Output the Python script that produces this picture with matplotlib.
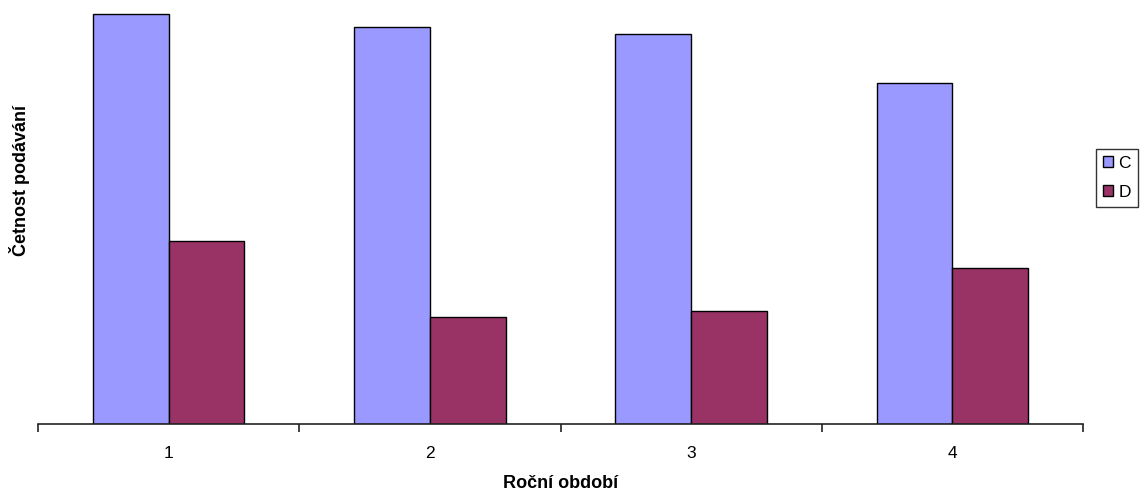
import numpy as np
import matplotlib.pyplot as plt
from matplotlib.patches import Patch

plt.rcParams['font.family'] = ['Liberation Sans', 'DejaVu Sans']

# Data
obdobi = ['1', '2', '3', '4']
hodnoty_C = [41.0, 39.7, 39.0, 34.1]
hodnoty_D = [18.3, 10.7, 11.3, 15.6]
barva_C = '#9999FF'
barva_D = '#993366'

W, H = 1140, 493
fig = plt.figure(figsize=(W / 100, H / 100), dpi=100)
ax = fig.add_axes([38 / W, (H - 424) / H, (1083 - 38) / W, (424 - 10) / H])

x = np.arange(1, len(obdobi) + 1)
sirka = 0.29
ax.bar(x - sirka / 2, hodnoty_C, sirka, color=barva_C, edgecolor='black', linewidth=1.0, label='C')
ax.bar(x + sirka / 2, hodnoty_D, sirka, color=barva_D, edgecolor='black', linewidth=1.0, label='D')

ax.set_xlim(0.5, len(obdobi) + 0.5)
ax.set_ylim(0, 41.4)

for s in ['top', 'right', 'left']:
    ax.spines[s].set_visible(False)
ax.spines['bottom'].set_color('#222222')
ax.spines['bottom'].set_linewidth(1.2)

ax.set_yticks([])
ax.set_xticks(x)
ax.set_xticklabels(obdobi, fontsize=12.5)
ax.tick_params(axis='x', which='major', length=0, pad=16)
ax.set_xticks(np.arange(0.5, len(obdobi) + 1), minor=True)
ax.tick_params(axis='x', which='minor', length=6, width=1.2, color='#222222')

fig.text((38 + 1083) / 2 / W, 1 - 484 / H, 'Roční období', ha='center', va='center',
         fontsize=13, fontweight='bold')
fig.text(20 / W, 1 - 180 / H, 'Četnost podávání', ha='center', va='center',
         rotation=90, fontsize=13, fontweight='bold')

handles = [Patch(facecolor=barva_C, edgecolor='black', label='C'),
           Patch(facecolor=barva_D, edgecolor='black', label='D')]
leg = fig.legend(handles=handles, loc='center', bbox_to_anchor=(1117 / W, 1 - 178 / H),
                 fontsize=12.5, frameon=True, fancybox=False, handlelength=0.6,
                 handleheight=0.6, handletextpad=0.3, borderpad=0.4, labelspacing=0.8,
                 borderaxespad=0)
leg.get_frame().set_edgecolor('black')
leg.get_frame().set_linewidth(1.0)

fig.savefig('out.png', dpi=100)
